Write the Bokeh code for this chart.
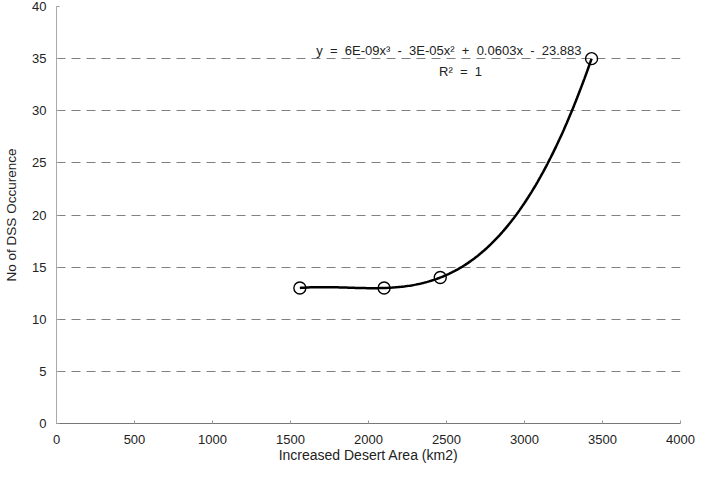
import numpy as np
from bokeh.plotting import figure
from bokeh.models import Range1d, FixedTicker, Label
from bokeh.embed import file_html
from bokeh.resources import INLINE

# data
desert_area = [1560, 2100, 2460, 3430]
dss_count = [13, 13, 14, 35]
x_ticks = [0, 500, 1000, 1500, 2000, 2500, 3000, 3500, 4000]
y_ticks = [0, 5, 10, 15, 20, 25, 30, 35, 40]
NB = "\u00a0"
equation = ("y" + NB * 2 + "=" + NB * 2 + "6E-09x\u00b3" + NB * 2 + "-" + NB * 2 +
            "3E-05x\u00b2" + NB * 2 + "+" + NB * 2 + "0.0603x" + NB * 2 + "-" + NB * 2 + "23.883")
r_squared = "R\u00b2" + NB * 2 + "=" + NB * 2 + "1"

FONT = "Liberation Sans"

p = figure(width=696, height=465, output_backend="svg", toolbar_location=None,
           x_range=Range1d(0, 4000), y_range=Range1d(0, 40),
           min_border_left=56, min_border_right=16, min_border_top=6, min_border_bottom=40)
p.outline_line_color = None
p.background_fill_color = "white"
p.border_fill_color = "white"

# grid
p.xgrid.grid_line_color = None
p.ygrid.ticker = FixedTicker(ticks=y_ticks[1:])
p.ygrid.grid_line_color = "#808080"
p.ygrid.grid_line_dash = "9 6"
p.ygrid.grid_line_width = 1

# axes
p.xaxis.ticker = FixedTicker(ticks=x_ticks)
p.yaxis.ticker = FixedTicker(ticks=y_ticks)
for ax in (p.xaxis[0], p.yaxis[0]):
    ax.major_label_text_font = FONT
    ax.major_label_text_font_size = "13px"
    ax.major_label_text_color = "#222222"
    ax.axis_label_text_font = FONT
    ax.axis_label_text_font_style = "normal"
    ax.axis_label_text_color = "#222222"
    ax.minor_tick_line_color = None
    ax.major_tick_in = 3
    ax.major_tick_out = 0
    ax.major_tick_line_color = "#999999"

p.xaxis.axis_line_color = "#777777"
p.xaxis.major_label_standoff = 11
p.xaxis.axis_label = "Increased Desert Area (km2)"
p.xaxis.axis_label_text_font_size = "14px"
p.xaxis.axis_label_standoff = 0

p.yaxis.axis_line_color = "#aaaaaa"
p.yaxis.major_label_standoff = 10
p.yaxis.axis_label = "No of DSS Occurence"
p.yaxis.axis_label_text_font_size = "13.5px"
p.yaxis.axis_label_standoff = 10

# cubic trend line through the points
coef = np.polyfit(desert_area, dss_count, 3)
xs = np.linspace(min(desert_area), max(desert_area), 200)
ys = np.polyval(coef, xs)
p.line(xs, ys, line_color="black", line_width=2.5)

# markers
p.scatter(desert_area, dss_count, size=12, marker="circle", fill_color=None,
          line_color="black", line_width=1.4)

# equation labels
p.add_layout(Label(x=3365, y=35.75, text=equation, text_align="right",
                   text_baseline="alphabetic", text_font=FONT, text_font_size="13px",
                   text_color="#222222"))
p.add_layout(Label(x=2590, y=33.75, text=r_squared, text_align="center",
                   text_baseline="alphabetic", text_font=FONT, text_font_size="13px",
                   text_color="#222222"))

open("out.html", "w").write(file_html(p, INLINE))
